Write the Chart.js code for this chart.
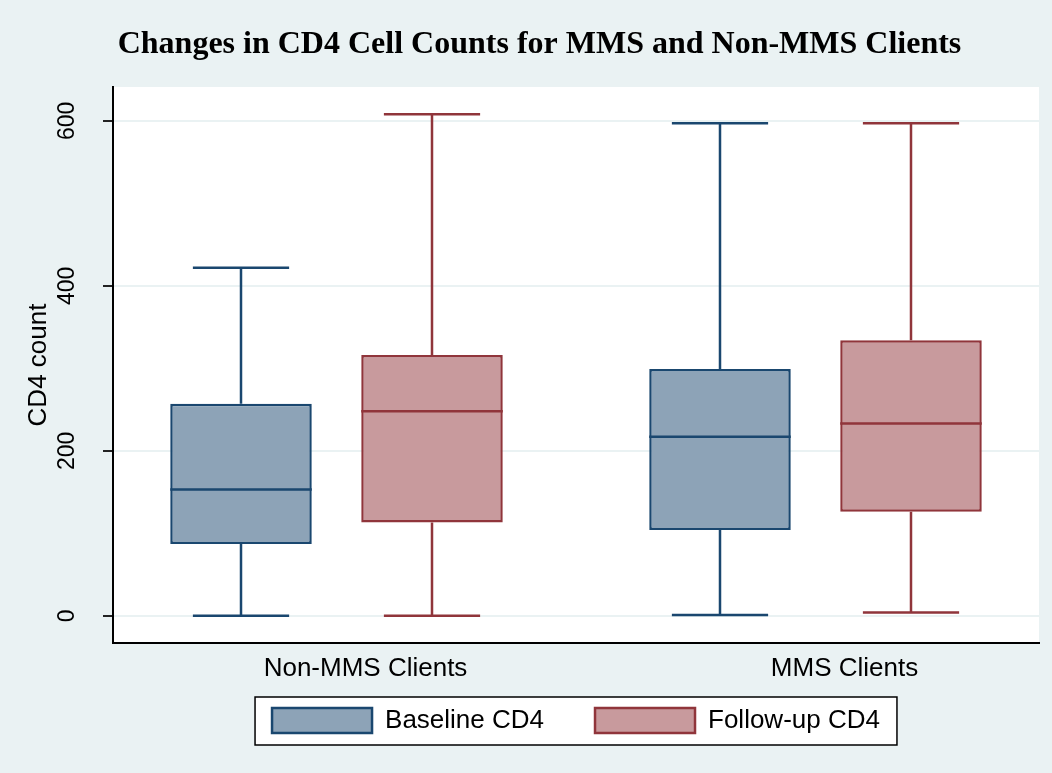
<!DOCTYPE html>
<html>
<head>
<meta charset="utf-8">
<script src="https://cdn.jsdelivr.net/npm/chart.js@4.4.1/dist/chart.umd.min.js"></script>
<style>
  html, body { margin: 0; padding: 0; background: #EAF2F3; }
  #wrap { width: 1052px; height: 773px; }
</style>
</head>
<body>
<div id="wrap"><canvas id="chart" width="1052" height="773"></canvas></div>
<script>
// Groups on the x axis and the two measurement series
const categories = ['Non-MMS Clients', 'MMS Clients'];
const seriesNames = ['Baseline CD4', 'Follow-up CD4'];

// Five-number summaries of CD4 count, one entry per group
const baselineMin    = [0, 1];
const baselineQ1     = [87, 104];
const baselineMedian = [153, 217];
const baselineQ3     = [257, 299];
const baselineMax    = [422, 597];

const followupMin    = [0, 4];
const followupQ1     = [113, 126];
const followupMedian = [248, 233];
const followupQ3     = [316, 334];
const followupMax    = [608, 597];

const yTicks = [0, 200, 400, 600];

const BG = '#EAF2F3';
const NAVY = '#1A476F', NAVY_FILL = 'rgb(141,163,183)';
const MAROON = '#90353B', MAROON_FILL = 'rgb(200,154,157)';
const LEGEND_LIFT = 28.5;   // pulls the legend row up towards the axis labels

const summaries = [
  { min: baselineMin, q1: baselineQ1, median: baselineMedian, q3: baselineQ3, max: baselineMax },
  { min: followupMin, q1: followupQ1, median: followupMedian, q3: followupQ3, max: followupMax }
];

// Boxes are floating bars spanning Q1..Q3 at each group index
function boxData(s) {
  return categories.map((_, i) => ({ x: i, y: [s.q1[i], s.q3[i]] }));
}

// Background of the graph region, the white plot region and the legend frame
const backgroundPlugin = {
  id: 'stataBackground',
  afterLayout(chart) {
    const lg = chart.legend;
    if (lg) { lg.top -= LEGEND_LIFT; lg.bottom -= LEGEND_LIFT; }
  },
  beforeDraw(chart) {
    const { ctx, chartArea: a, legend } = chart;
    ctx.save();
    ctx.fillStyle = BG;
    ctx.fillRect(0, 0, chart.width, chart.height);
    ctx.fillStyle = '#FFFFFF';
    ctx.fillRect(a.left, a.top, a.right - a.left, a.bottom - a.top);
    const hb = legend && legend.legendHitBoxes;
    if (hb && hb.length) {
      const first = hb[0], last = hb[hb.length - 1];
      const x0 = first.left - 17, x1 = last.left + last.width + 17;
      const y0 = first.top - 10.5, y1 = first.top + 37.5;
      ctx.fillStyle = '#FFFFFF';
      ctx.fillRect(x0, y0, x1 - x0, y1 - y0);
      ctx.strokeStyle = '#000000';
      ctx.lineWidth = 1.5;
      ctx.strokeRect(x0, y0, x1 - x0, y1 - y0);
    }
    ctx.restore();
  }
};

// Whiskers, end caps and median lines drawn through the y scale
const whiskerPlugin = {
  id: 'boxWhiskers',
  afterDatasetsDraw(chart) {
    const ctx = chart.ctx;
    const yScale = chart.scales.y;
    chart.data.datasets.forEach((ds, di) => {
      const meta = chart.getDatasetMeta(di);
      const s = summaries[di];
      meta.data.forEach((bar, i) => {
        const { x, width } = bar.getProps(['x', 'width'], true);
        const cap = width * 0.68;
        const pQ1 = yScale.getPixelForValue(s.q1[i]);
        const pQ3 = yScale.getPixelForValue(s.q3[i]);
        const pMin = yScale.getPixelForValue(s.min[i]);
        const pMax = yScale.getPixelForValue(s.max[i]);
        const pMed = yScale.getPixelForValue(s.median[i]);
        ctx.save();
        ctx.strokeStyle = ds.borderColor;
        ctx.lineWidth = 2.5;
        ctx.beginPath();
        ctx.moveTo(x, pQ3); ctx.lineTo(x, pMax);
        ctx.moveTo(x - cap / 2, pMax); ctx.lineTo(x + cap / 2, pMax);
        ctx.moveTo(x, pQ1); ctx.lineTo(x, pMin);
        ctx.moveTo(x - cap / 2, pMin); ctx.lineTo(x + cap / 2, pMin);
        ctx.moveTo(x - width / 2, pMed); ctx.lineTo(x + width / 2, pMed);
        ctx.stroke();
        ctx.restore();
      });
    });
  }
};

new Chart(document.getElementById('chart'), {
  type: 'bar',
  data: {
    datasets: [
      {
        label: seriesNames[0],
        data: boxData(summaries[0]),
        backgroundColor: NAVY_FILL,
        borderColor: NAVY,
        borderWidth: 2.5,
        borderSkipped: false
      },
      {
        label: seriesNames[1],
        data: boxData(summaries[1]),
        backgroundColor: MAROON_FILL,
        borderColor: MAROON,
        borderWidth: 2.5,
        borderSkipped: false
      }
    ]
  },
  options: {
    responsive: false,
    animation: false,
    events: [],
    devicePixelRatio: 1,
    categoryPercentage: 0.7975,
    barPercentage: 0.741,
    layout: { padding: { left: 40, right: 13, top: 0, bottom: 1 } },
    scales: {
      x: {
        type: 'linear',
        offset: false,
        min: -0.4666,
        max: 1.4666,
        afterBuildTicks: (scale) => { scale.ticks = categories.map((_, i) => ({ value: i })); },
        afterFit: (scale) => { scale.height = 42; },
        grid: { display: false, drawTicks: false },
        border: { display: true, color: '#000000', width: 2 },
        ticks: {
          callback: (v) => categories[v],
          labelOffset: 29,
          padding: 10,
          maxRotation: 0,
          autoSkip: false,
          color: '#000000',
          font: { family: 'Liberation Sans', size: 26 }
        }
      },
      y: {
        type: 'linear',
        min: -33,
        max: 641,
        afterBuildTicks: (scale) => { scale.ticks = yTicks.map(v => ({ value: v })); },
        afterFit: (scale) => { scale.width = 73; },
        grid: {
          color: BG,
          lineWidth: 2,
          drawTicks: true,
          tickLength: 10,
          tickColor: '#222222',
          tickWidth: 2
        },
        border: { display: true, color: '#000000', width: 2 },
        ticks: {
          minRotation: 90,
          maxRotation: 90,
          crossAlign: 'center',
          padding: 16,
          color: '#000000',
          font: { family: 'Liberation Sans', size: 23 }
        },
        title: {
          display: true,
          text: 'CD4 count',
          color: '#000000',
          font: { family: 'Liberation Sans', size: 26, lineHeight: 1 },
          padding: { top: -14, bottom: 0 }
        }
      }
    },
    plugins: {
      title: {
        display: true,
        text: 'Changes in CD4 Cell Counts for MMS and Non-MMS Clients',
        color: '#000000',
        font: { family: 'Liberation Serif', size: 32, weight: 'bold', lineHeight: 1.2 },
        padding: { top: 26, bottom: 22.6 }
      },
      legend: {
        display: true,
        position: 'bottom',
        fullSize: false,
        labels: {
          boxWidth: 100,
          boxHeight: 25,
          padding: 51,
          color: '#000000',
          font: { family: 'Liberation Sans', size: 26 }
        }
      },
      tooltip: { enabled: false }
    }
  },
  plugins: [backgroundPlugin, whiskerPlugin]
});
</script>
</body>
</html>
